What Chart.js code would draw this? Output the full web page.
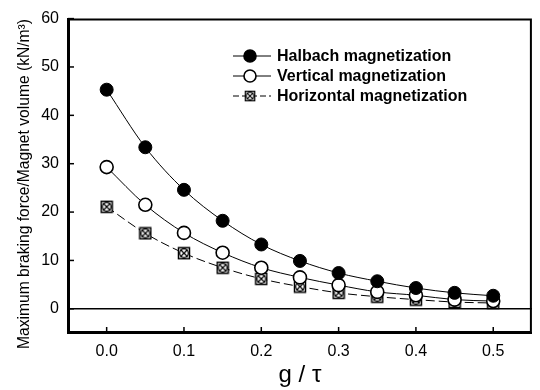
<!DOCTYPE html>
<html>
<head>
<meta charset="utf-8">
<script src="https://cdn.jsdelivr.net/npm/chart.js@4.4.0/dist/chart.umd.min.js"></script>
<style>
  html, body { margin: 0; padding: 0; background: #fff; }
  #wrap { width: 540px; height: 390px; }
</style>
</head>
<body>
<div id="wrap"><canvas id="c" width="540" height="390"></canvas></div>
<script>
// data
const gTau = [0.0, 0.05, 0.1, 0.15, 0.2, 0.25, 0.3, 0.35, 0.4, 0.45, 0.5];
const halbach = [45.3, 33.4, 24.6, 18.2, 13.3, 9.9, 7.4, 5.7, 4.3, 3.3, 2.7];
const vertical = [29.3, 21.5, 15.7, 11.6, 8.5, 6.5, 4.9, 3.5, 2.8, 1.9, 1.6];
const horizontal = [21.1, 15.6, 11.5, 8.5, 6.2, 4.6, 3.3, 2.5, 1.9, 1.4, 1.2];
const seriesNames = ['Halbach magnetization', 'Vertical magnetization', 'Horizontal magnetization'];
const xTicks = [0.0, 0.1, 0.2, 0.3, 0.4, 0.5];
const yTicks = [0, 10, 20, 30, 40, 50, 60];
const yTitle = 'Maximum braking force/Magnet volume (kN/m\u00b3)';

const FONT = '"Liberation Sans", Arial, sans-serif';

// crossed box marker (square + circle + X)
function crossBox(){
  const s = 14, cv = document.createElement('canvas');
  cv.width = s; cv.height = s;
  const g = cv.getContext('2d');
  g.fillStyle = '#fff'; g.fillRect(1, 1, s-2, s-2);
  g.strokeStyle = '#000'; g.lineWidth = 1.5;
  g.strokeRect(1.5, 1.5, s-3, s-3);
  g.lineWidth = 1.2;
  g.beginPath(); g.arc(s/2, s/2, 4.3, 0, Math.PI*2); g.stroke();
  g.beginPath();
  g.moveTo(3.5, 3.5); g.lineTo(s-3.5, s-3.5);
  g.moveTo(s-3.5, 3.5); g.lineTo(3.5, s-3.5);
  g.stroke();
  return cv;
}
const boxMarker = crossBox();

function pts(ys){ return gTau.map((x, k) => ({x: x, y: ys[k]})); }

const datasets = [
  { label: seriesNames[0], data: pts(halbach), borderColor: '#000', borderWidth: 1,
    pointStyle: 'circle', pointRadius: 6.5, pointBackgroundColor: '#000', pointBorderColor: '#000' },
  { label: seriesNames[1], data: pts(vertical), borderColor: '#000', borderWidth: 1,
    pointStyle: 'circle', pointRadius: 6.5, pointBackgroundColor: '#fff', pointBorderColor: '#000', pointBorderWidth: 1.6 },
  { label: seriesNames[2], data: pts(horizontal), borderColor: '#000', borderWidth: 1, borderDash: [9, 4],
    pointStyle: boxMarker, pointRadius: 7, pointBackgroundColor: '#fff', pointBorderColor: '#000' }
];
datasets.forEach(d => { d.tension = 0.4; d.cubicInterpolationMode = 'monotone'; d.fill = false; });

function line(ctx, x1, y1, x2, y2){
  ctx.beginPath(); ctx.moveTo(x1, y1); ctx.lineTo(x2, y2); ctx.stroke();
}

// frame, inward ticks, zero line, legend, y title
const decor = {
  id: 'decor',
  afterDraw(chart){
    const {ctx, chartArea: a, scales: {x, y}} = chart;
    ctx.save();
    ctx.setLineDash([]);
    ctx.strokeStyle = '#000';
    ctx.lineWidth = 2;
    ctx.beginPath();
    ctx.rect(a.left + 1, a.top + 1, a.right - a.left - 2, a.bottom - a.top - 2);
    ctx.stroke();
    ctx.lineWidth = 1.5;
    const y0 = y.getPixelForValue(0);
    line(ctx, a.left, y0, a.right, y0);
    yTicks.forEach(v => {
      const p = y.getPixelForValue(v);
      line(ctx, a.left, p, a.left + 6, p);
    });
    xTicks.forEach(v => {
      const p = x.getPixelForValue(v);
      line(ctx, p, a.bottom, p, a.bottom - 6);
    });

    // legend
    const rows = [56, 76, 96];
    chart.data.datasets.forEach((d, k) => {
      const ly = rows[k];
      ctx.strokeStyle = '#000'; ctx.lineWidth = 1;
      ctx.setLineDash(k === 2 ? [6, 3] : []);
      line(ctx, 233, ly, 271, ly);
      ctx.setLineDash([]);
      if (k === 2) {
        ctx.drawImage(boxMarker, 250 - 6, ly - 6, 12, 12);
      } else {
        ctx.beginPath(); ctx.arc(250, ly, 6, 0, Math.PI*2);
        ctx.fillStyle = k === 0 ? '#000' : '#fff'; ctx.fill();
        ctx.lineWidth = 1.6; ctx.stroke();
      }
      ctx.fillStyle = '#000';
      ctx.font = 'bold 16px ' + FONT;
      ctx.textAlign = 'left'; ctx.textBaseline = 'middle';
      ctx.fillText(d.label, 277, ly + 1);
    });
    // y title
    ctx.translate(25, 184);
    ctx.rotate(-Math.PI/2);
    ctx.font = '16px ' + FONT;
    ctx.fillStyle = '#000';
    ctx.textAlign = 'center'; ctx.textBaseline = 'middle';
    ctx.fillText(yTitle, 0, 0, 330);
    ctx.restore();
  }
};

new Chart(document.getElementById('c'), {
  type: 'line',
  data: { datasets: datasets },
  options: {
    responsive: false,
    animation: false,
    layout: { padding: { top: 17, right: 2, left: 0, bottom: 0 } },
    plugins: { legend: { display: false }, tooltip: { enabled: false } },
    scales: {
      x: {
        type: 'linear', min: -0.05, max: 0.55,
        afterBuildTicks: s => { s.ticks = xTicks.map(v => ({value: v})); },
        afterFit: s => { s.height = 57; },
        grid: { display: false, drawTicks: false },
        border: { display: true, color: '#000', width: 2 },
        ticks: { color: '#000', font: { family: FONT, size: 16 }, padding: 9,
                 maxRotation: 0, callback: v => v.toFixed(1) },
        title: { display: true, text: 'g / \u03c4', color: '#000',
                 font: { family: FONT, size: 24 }, padding: { top: 2, bottom: 0 } }
      },
      y: {
        type: 'linear', min: -5, max: 60,
        afterBuildTicks: s => { s.ticks = yTicks.map(v => ({value: v})); },
        afterFit: s => { s.width = 68; },
        grid: { display: false, drawTicks: false },
        border: { display: true, color: '#000', width: 2 },
        ticks: { color: '#000', font: { family: FONT, size: 16 }, padding: 9 }
      }
    }
  },
  plugins: [decor]
});
</script>
</body>
</html>
